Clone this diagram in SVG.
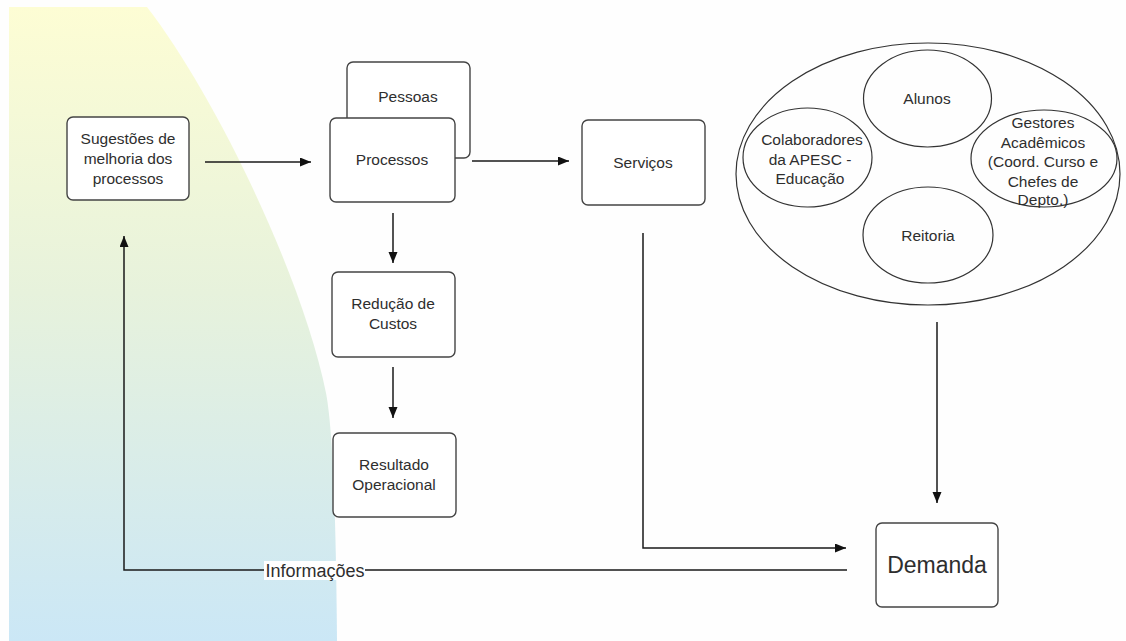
<svg xmlns="http://www.w3.org/2000/svg" width="1126" height="641" viewBox="0 0 1126 641">
  <defs>
    <linearGradient id="bgGrad" x1="0" y1="0" x2="0" y2="1">
      <stop offset="0" stop-color="#fdfdd4"/>
      <stop offset="0.45" stop-color="#e7f2dc"/>
      <stop offset="1" stop-color="#cbe7f6"/>
    </linearGradient>
    <marker id="arrow" markerUnits="userSpaceOnUse" markerWidth="12" markerHeight="10" refX="11" refY="4.5" orient="auto">
      <path d="M0,0 L11,4.5 L0,9 Z" fill="#111"/>
    </marker>
    <style>
      .box { fill: #ffffff; stroke: #444; stroke-width: 1.4; }
      .oval { fill: none; stroke: #333; stroke-width: 1.2; }
      .lbl { font-family: "Liberation Sans", Arial, sans-serif; font-size: 15.5px; fill: #2e2e2e; text-anchor: middle; dominant-baseline: central; }
      .big { font-size: 23px; }
      .conn { fill: none; stroke: #1a1a1a; stroke-width: 1.5; }
    </style>
  </defs>

  <rect width="1126" height="641" fill="#fefefe"/>

  <!-- tinted backdrop on the left -->
  <path d="M9,7 L147,7 C215,95 302,275 326,393 C333,430 336,520 337,641 L9,641 Z" fill="url(#bgGrad)"/>

  <!-- connectors -->
  <g id="connectors">
    <path class="conn" d="M205,162 H311" marker-end="url(#arrow)"/>
    <path class="conn" d="M472,161 H569" marker-end="url(#arrow)"/>
    <path class="conn" d="M393,213 V263" marker-end="url(#arrow)"/>
    <path class="conn" d="M393,367 V418" marker-end="url(#arrow)"/>
    <path class="conn" d="M937,322 V503" marker-end="url(#arrow)"/>
    <path class="conn" d="M643,233 V548 H846" marker-end="url(#arrow)"/>
    <path class="conn" d="M847,570 H124 V236" marker-end="url(#arrow)"/>
    <rect x="264" y="561" width="101" height="19" fill="#ffffff"/>
    <text class="lbl" x="315" y="570.5" style="font-size:18px">Informações</text>
  </g>

  <g id="sugestoes">
    <rect class="box" x="67" y="117" width="122" height="83" rx="6"/>
    <text class="lbl" x="128" y="138">Sugestões de</text>
    <text class="lbl" x="128" y="158">melhoria dos</text>
    <text class="lbl" x="128" y="178">processos</text>
  </g>

  <g id="pessoas">
    <rect class="box" x="347" y="62" width="123" height="96" rx="6"/>
    <text class="lbl" x="408" y="96">Pessoas</text>
  </g>

  <g id="processos">
    <rect class="box" x="330" y="118" width="125" height="84" rx="6"/>
    <text class="lbl" x="392" y="159">Processos</text>
  </g>

  <g id="servicos">
    <rect class="box" x="582" y="120" width="123" height="85" rx="6"/>
    <text class="lbl" x="643" y="162">Serviços</text>
  </g>

  <g id="reducao">
    <rect class="box" x="332" y="272" width="123" height="85" rx="6"/>
    <text class="lbl" x="393" y="303">Redução de</text>
    <text class="lbl" x="393" y="323">Custos</text>
  </g>

  <g id="resultado">
    <rect class="box" x="333" y="433" width="123" height="84" rx="6"/>
    <text class="lbl" x="394" y="464">Resultado</text>
    <text class="lbl" x="394" y="484">Operacional</text>
  </g>

  <g id="publico">
    <ellipse class="oval" cx="928" cy="174" rx="192" ry="131"/>
  </g>

  <g id="alunos">
    <ellipse class="oval" cx="927.5" cy="98.5" rx="64" ry="48.5"/>
    <text class="lbl" x="927" y="98">Alunos</text>
  </g>

  <g id="colaboradores">
    <ellipse class="oval" cx="807.5" cy="157.5" rx="64.5" ry="49.5"/>
    <text class="lbl" x="812" y="139">Colaboradores</text>
    <text class="lbl" x="810" y="159">da APESC -</text>
    <text class="lbl" x="810" y="178">Educação</text>
  </g>

  <g id="gestores">
    <ellipse class="oval" cx="1044" cy="158.5" rx="73" ry="48.5"/>
    <text class="lbl" x="1043" y="122">Gestores</text>
    <text class="lbl" x="1043" y="142">Acadêmicos</text>
    <text class="lbl" x="1043" y="161">(Coord. Curso e</text>
    <text class="lbl" x="1043" y="181">Chefes de</text>
    <text class="lbl" x="1043" y="199">Depto.)</text>
  </g>

  <g id="reitoria">
    <ellipse class="oval" cx="928" cy="235" rx="65" ry="48"/>
    <text class="lbl" x="928" y="235">Reitoria</text>
  </g>

  <g id="demanda">
    <rect class="box" x="876" y="523" width="122" height="84" rx="6"/>
    <text class="lbl big" x="937" y="565">Demanda</text>
  </g>
</svg>
